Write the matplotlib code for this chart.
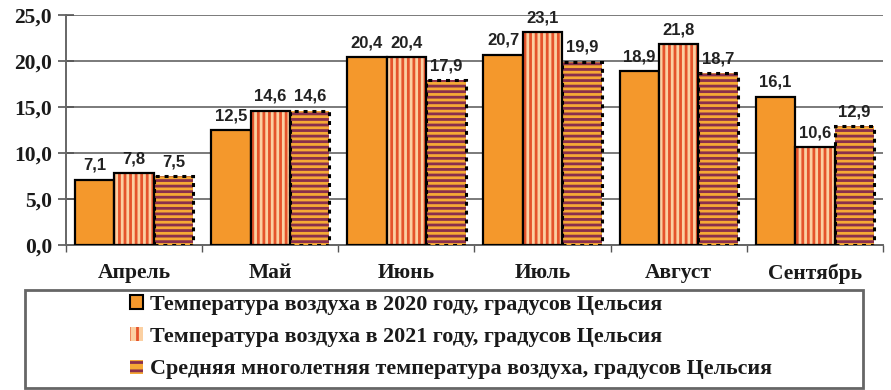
import matplotlib
matplotlib.use("Agg")
import matplotlib.pyplot as plt
from matplotlib.patches import Rectangle, Patch
from matplotlib.ticker import FixedLocator, FuncFormatter
import numpy as np

months = ["Апрель", "Май", "Июнь", "Июль", "Август", "Сентябрь"]
t2020 = [7.1, 12.5, 20.4, 20.7, 18.9, 16.1]
t2021 = [7.8, 14.6, 20.4, 23.1, 21.8, 10.6]
t_avg = [7.5, 14.6, 17.9, 19.9, 18.7, 12.9]
labels = ["Температура воздуха в 2020 году, градусов Цельсия",
          "Температура воздуха в 2021 году, градусов Цельсия",
          "Средняя многолетняя температура воздуха, градусов Цельсия"]

ORANGE = "#F4982C"
RED = "#E5532B"
PEACH = "#FBD0A2"
GOLD = "#F6A935"
MAROON = "#8A2F4C"

plt.rcParams["hatch.linewidth"] = 2.0
serif = "Liberation Serif"
sans = "Liberation Sans"

fig = plt.figure(figsize=(8.91, 3.90), dpi=100)
ax = fig.add_axes([66 / 891, 1 - 245 / 390, (883 - 66) / 891, (245 - 15) / 390])

x = np.arange(len(months))
w = 0.29

# 2020: solid orange
ax.bar(x - w, t2020, w, color=ORANGE, edgecolor="black", linewidth=1.6, zorder=3)
# 2021: vertical stripes
ax.bar(x, t2021, w, color=PEACH, edgecolor=RED, hatch="|||", linewidth=0, zorder=3)
ax.bar(x, t2021, w, fill=False, edgecolor="black", linewidth=1.6, zorder=4)
# average: horizontal stripes, dotted outline
ax.bar(x + w, t_avg, w, color=GOLD, edgecolor=MAROON, hatch="---", linewidth=0, zorder=3)
ax.bar(x + w, t_avg, w, fill=False, edgecolor="black", linewidth=2.2,
       linestyle=(0, (1.3, 1.6)), zorder=4)

for offs, vals in ((-w, t2020), (0, t2021), (w, t_avg)):
    for xi, v in zip(x + offs, vals):
        ax.annotate(f"{v:.1f}".replace(".", ","), (xi, v), xytext=(0, 5),
                    textcoords="offset points", ha="center", va="bottom",
                    fontsize=12, fontweight="bold", family=sans, color="#222222",
                    zorder=5)

ax.set_xlim(-0.5, 5.5)
ax.set_ylim(0, 25)
ax.set_yticks(np.arange(0, 26, 5))
ax.yaxis.set_major_formatter(FuncFormatter(lambda v, p: f"{v:.1f}".replace(".", ",")))
ax.grid(axis="y", color="#7a7a7a", linewidth=1.4, zorder=0)

ax.set_xticks(x)
ax.set_xticklabels(months)
ax.xaxis.set_minor_locator(FixedLocator(np.arange(-0.5, 6, 1)))
ax.tick_params(axis="x", which="major", length=0, pad=13)
ax.tick_params(axis="x", which="minor", length=5, direction="out", color="#555555", width=1)
ax.tick_params(axis="y", direction="inout", length=12, color="#555555", width=1.2, pad=4)
for lab in ax.get_xticklabels() + ax.get_yticklabels():
    lab.set_family(serif)
    lab.set_fontweight("bold")
    lab.set_fontsize(15.5)
    lab.set_color("#1a1a1a")

for s in ("top", "right"):
    ax.spines[s].set_visible(False)
for s in ("left", "bottom"):
    ax.spines[s].set_color("#666666")
    ax.spines[s].set_linewidth(1.4)

# legend box
fig.patches.append(Rectangle((25 / 891, 1 - 388 / 390), (863 - 25) / 891, (388 - 290) / 390,
                             transform=fig.transFigure, fill=False,
                             edgecolor="#666666", linewidth=2))
handles = [
    Patch(facecolor=ORANGE, edgecolor="black", linewidth=1.5),
    Patch(facecolor=PEACH, edgecolor=RED, hatch="||", linewidth=0),
    Patch(facecolor=GOLD, edgecolor=MAROON, hatch="--", linewidth=0),
]
leg = fig.legend(handles, labels, loc="center", bbox_to_anchor=(451 / 891, 1 - 337 / 390),
                 frameon=False, handlelength=0.6, handleheight=0.6, handletextpad=0.3,
                 labelspacing=0.56, prop={"family": serif, "weight": "bold", "size": 15.8})
for t in leg.get_texts():
    t.set_color("#1a1a1a")

fig.savefig("out.png", dpi=100)
